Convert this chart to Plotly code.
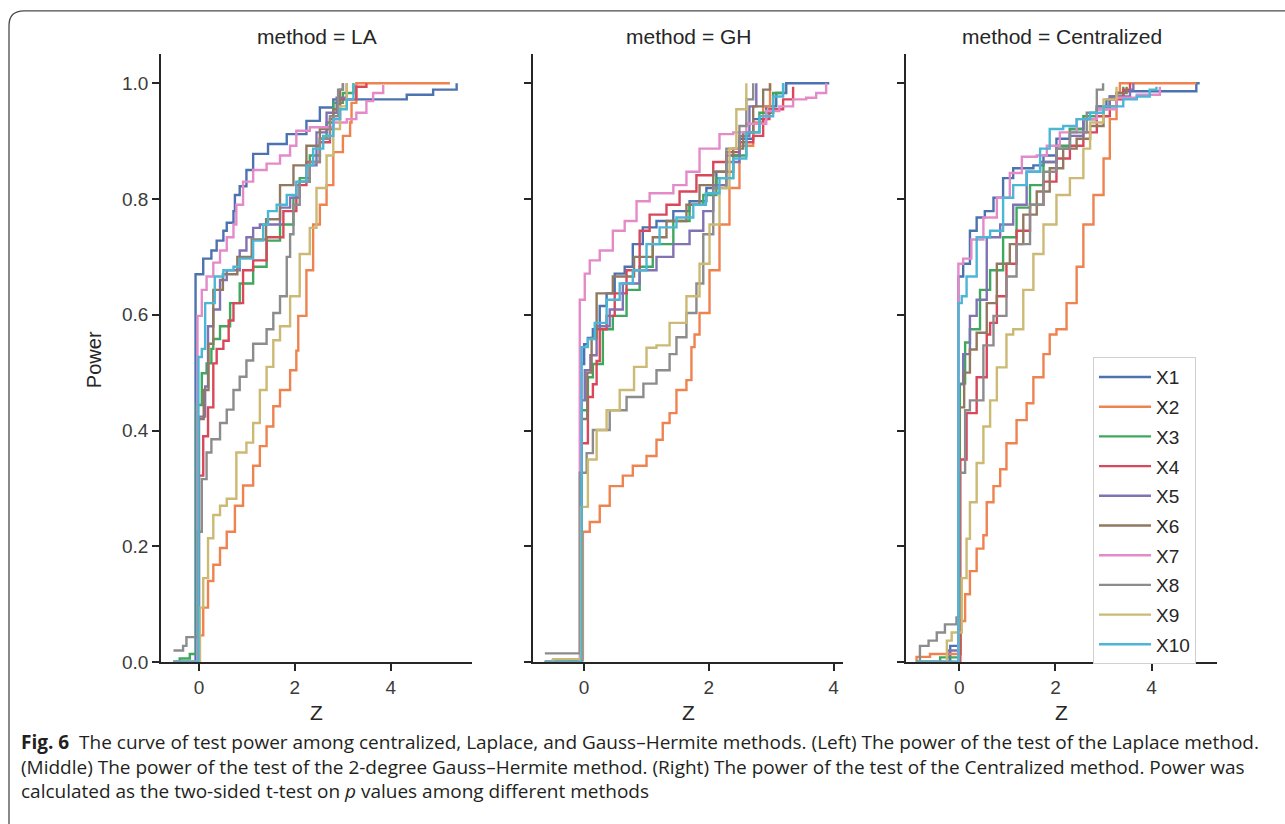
import plotly.graph_objects as go

# ---------------- data ----------------
SERIES = ["X1", "X2", "X3", "X4", "X5", "X6", "X7", "X8", "X9", "X10"]
COLORS = ["#4C72B0", "#EE8350", "#3FA85E", "#D9475A", "#8172B3",
          "#937860", "#E58AC8", "#8C8C8C", "#CCB974", "#4BB6D6"]
METHODS = ["LA", "GH", "Centralized"]
Y_TICKS = [0.0, 0.2, 0.4, 0.6, 0.8, 1.0]
Y_TICK_TEXT = ["0.0", "0.2", "0.4", "0.6", "0.8", "1.0"]
X_TICKS = [0, 2, 4]

# ---- method = LA ----
LA_X1_Z = [-0.53, -0.07, 0.09, 0.26, 0.37, 0.51, 0.58, 0.72, 0.75, 0.85, 0.99, 1.13, 1.44, 1.83, 2.24, 2.52, 2.80, 4.33, 4.88, 5.37]
LA_X1_P = [0.0, 0.670, 0.697, 0.711, 0.728, 0.745, 0.759, 0.779, 0.807, 0.822, 0.850, 0.878, 0.895, 0.912, 0.935, 0.958, 0.972, 0.980, 0.989, 1.0]
LA_X2_Z = [-0.53, 0.02, 0.09, 0.19, 0.30, 0.44, 0.58, 0.75, 0.92, 1.13, 1.27, 1.41, 1.55, 1.69, 1.90, 2.03, 2.07, 2.24, 2.38, 2.52, 2.66, 2.80, 3.00, 3.15, 3.18, 3.28, 5.23]
LA_X2_P = [0.0, 0.046, 0.094, 0.140, 0.168, 0.197, 0.225, 0.270, 0.305, 0.339, 0.373, 0.407, 0.442, 0.470, 0.504, 0.538, 0.598, 0.677, 0.756, 0.790, 0.824, 0.881, 0.909, 0.932, 0.966, 1.0, 1.0]
LA_X3_Z = [-0.53, -0.40, -0.19, -0.05, 0.06, 0.16, 0.26, 0.30, 0.44, 0.65, 0.85, 1.13, 1.41, 1.69, 1.97, 2.10, 2.31, 2.52, 2.66, 2.80, 3.00, 3.22]
LA_X3_P = [0.0, 0.006, 0.014, 0.444, 0.499, 0.516, 0.541, 0.558, 0.580, 0.620, 0.654, 0.683, 0.728, 0.756, 0.802, 0.836, 0.875, 0.904, 0.932, 0.966, 0.983, 1.0]
LA_X4_Z = [-0.53, 0.00, 0.09, 0.19, 0.30, 0.37, 0.51, 0.62, 0.72, 0.92, 1.13, 1.41, 1.76, 2.03, 2.24, 2.52, 2.73, 2.94, 3.28, 3.49]
LA_X4_P = [0.0, 0.322, 0.390, 0.440, 0.516, 0.541, 0.555, 0.590, 0.620, 0.677, 0.694, 0.734, 0.779, 0.824, 0.864, 0.898, 0.938, 0.972, 0.994, 1.0]
LA_X5_Z = [-0.53, 0.00, 0.13, 0.19, 0.30, 0.44, 0.58, 0.85, 0.99, 1.13, 1.27, 1.69, 1.90, 2.10, 2.31, 2.45, 2.66, 2.87, 3.08]
LA_X5_P = [0.0, 0.424, 0.476, 0.580, 0.609, 0.660, 0.677, 0.711, 0.734, 0.750, 0.756, 0.785, 0.802, 0.830, 0.858, 0.915, 0.949, 0.975, 1.0]
LA_X6_Z = [-0.53, 0.00, 0.10, 0.20, 0.30, 0.50, 0.80, 1.10, 1.40, 1.69, 1.97, 2.24, 2.52, 2.80, 2.94, 3.00]
LA_X6_P = [0.0, 0.420, 0.470, 0.550, 0.643, 0.670, 0.700, 0.730, 0.765, 0.824, 0.858, 0.892, 0.921, 0.955, 0.989, 1.0]
LA_X7_Z = [-0.53, -0.03, 0.06, 0.16, 0.30, 0.44, 0.58, 0.72, 0.78, 0.92, 1.13, 1.41, 1.69, 1.90, 2.03, 2.31, 2.80, 3.08, 3.28, 3.49, 3.63, 3.84]
LA_X7_P = [0.0, 0.598, 0.643, 0.666, 0.690, 0.711, 0.734, 0.756, 0.790, 0.830, 0.850, 0.861, 0.875, 0.892, 0.918, 0.924, 0.932, 0.938, 0.949, 0.969, 0.983, 0.997]
LA_X8_Z = [-0.53, -0.33, -0.26, -0.02, 0.06, 0.16, 0.26, 0.44, 0.58, 0.72, 0.85, 0.99, 1.13, 1.41, 1.55, 1.69, 1.83, 1.90, 1.97, 2.10, 2.31, 2.52, 2.73, 2.90, 3.00]
LA_X8_P = [0.020, 0.028, 0.043, 0.225, 0.316, 0.362, 0.385, 0.413, 0.436, 0.470, 0.493, 0.521, 0.550, 0.575, 0.603, 0.632, 0.700, 0.739, 0.790, 0.830, 0.864, 0.904, 0.943, 0.989, 1.0]
LA_X9_Z = [-0.53, 0.02, 0.09, 0.19, 0.30, 0.44, 0.58, 0.78, 0.99, 1.13, 1.27, 1.41, 1.55, 1.69, 1.90, 2.10, 2.31, 2.45, 2.66, 2.80, 2.94, 3.08]
LA_X9_P = [0.0, 0.094, 0.145, 0.214, 0.254, 0.270, 0.282, 0.362, 0.379, 0.413, 0.470, 0.510, 0.556, 0.580, 0.632, 0.705, 0.750, 0.819, 0.875, 0.921, 0.960, 1.0]
LA_X10_Z = [-0.53, -0.01, 0.06, 0.13, 0.33, 0.51, 0.72, 0.85, 1.13, 1.34, 1.44, 1.62, 1.83, 2.03, 2.24, 2.38, 2.59, 2.80, 2.94, 3.08, 3.22]
LA_X10_P = [0.0, 0.527, 0.541, 0.620, 0.666, 0.677, 0.683, 0.697, 0.728, 0.756, 0.779, 0.790, 0.807, 0.830, 0.858, 0.887, 0.909, 0.938, 0.955, 0.972, 1.0]

# ---- method = GH ----
GH_X1_Z = [-0.63, -0.05, 0.00, 0.06, 0.14, 0.25, 0.36, 0.49, 0.65, 0.78, 0.94, 1.16, 1.43, 1.69, 1.96, 2.12, 2.28, 2.49, 2.71, 2.92, 3.08, 3.24, 3.93]
GH_X1_P = [0.0, 0.515, 0.549, 0.560, 0.575, 0.615, 0.637, 0.671, 0.683, 0.722, 0.751, 0.762, 0.779, 0.796, 0.819, 0.847, 0.875, 0.904, 0.938, 0.960, 0.983, 1.0, 1.0]
GH_X2_Z = [-0.63, -0.50, -0.02, 0.09, 0.25, 0.41, 0.62, 0.78, 1.00, 1.16, 1.26, 1.37, 1.48, 1.64, 1.72, 1.77, 1.85, 2.01, 2.17, 2.33, 2.49, 2.71, 2.87, 2.98]
GH_X2_P = [0.0, 0.003, 0.225, 0.242, 0.270, 0.304, 0.322, 0.339, 0.356, 0.384, 0.413, 0.430, 0.470, 0.487, 0.544, 0.566, 0.603, 0.677, 0.756, 0.819, 0.892, 0.932, 0.960, 1.0]
GH_X3_Z = [-0.63, -0.30, -0.04, 0.06, 0.14, 0.30, 0.46, 0.68, 0.89, 1.10, 1.43, 1.69, 1.91, 2.12, 2.39, 2.60, 2.81, 3.03, 3.19]
GH_X3_P = [0.0, 0.004, 0.435, 0.492, 0.515, 0.575, 0.598, 0.643, 0.683, 0.722, 0.762, 0.790, 0.807, 0.836, 0.875, 0.915, 0.949, 0.983, 1.0]
GH_X4_Z = [-0.63, -0.04, 0.06, 0.14, 0.20, 0.25, 0.36, 0.49, 0.68, 0.89, 1.05, 1.32, 1.53, 1.80, 2.07, 2.28, 2.49, 2.71, 2.87, 2.97, 3.19, 3.35]
GH_X4_P = [0.0, 0.378, 0.458, 0.480, 0.520, 0.575, 0.598, 0.637, 0.677, 0.745, 0.773, 0.790, 0.813, 0.841, 0.864, 0.881, 0.898, 0.909, 0.938, 0.955, 0.972, 0.994]
GH_X5_Z = [-0.63, -0.04, 0.01, 0.10, 0.20, 0.41, 0.62, 0.89, 1.16, 1.43, 1.69, 1.91, 2.07, 2.28, 2.49, 2.65, 2.76]
GH_X5_P = [0.0, 0.452, 0.504, 0.530, 0.580, 0.609, 0.654, 0.677, 0.700, 0.722, 0.745, 0.779, 0.824, 0.864, 0.909, 0.960, 1.0]
GH_X6_Z = [-0.63, -0.04, 0.05, 0.12, 0.20, 0.46, 0.80, 1.10, 1.32, 1.64, 1.85, 2.07, 2.39, 2.55, 2.71, 2.87, 2.98]
GH_X6_P = [0.0, 0.420, 0.500, 0.560, 0.637, 0.666, 0.700, 0.734, 0.762, 0.790, 0.824, 0.847, 0.887, 0.915, 0.960, 0.989, 1.0]
GH_X7_Z = [-0.63, -0.07, 0.01, 0.09, 0.25, 0.46, 0.65, 0.84, 1.05, 1.43, 1.64, 1.85, 2.17, 2.39, 2.60, 2.92, 3.13, 3.35, 3.56, 3.72, 3.88]
GH_X7_P = [0.0, 0.626, 0.671, 0.694, 0.711, 0.745, 0.762, 0.796, 0.810, 0.824, 0.847, 0.887, 0.912, 0.915, 0.930, 0.952, 0.960, 0.972, 0.975, 0.983, 1.0]
GH_X8_Z = [-0.63, -0.07, 0.04, 0.14, 0.41, 0.68, 0.95, 1.16, 1.37, 1.48, 1.64, 1.80, 1.91, 2.07, 2.28, 2.49, 2.60, 2.71]
GH_X8_P = [0.015, 0.327, 0.361, 0.401, 0.435, 0.458, 0.481, 0.504, 0.532, 0.561, 0.603, 0.654, 0.739, 0.819, 0.887, 0.926, 0.972, 1.0]
GH_X9_Z = [-0.63, -0.50, -0.05, 0.06, 0.20, 0.36, 0.57, 0.80, 1.00, 1.16, 1.37, 1.64, 1.85, 2.01, 2.17, 2.33, 2.44, 2.60]
GH_X9_P = [0.0, 0.005, 0.268, 0.350, 0.401, 0.435, 0.470, 0.510, 0.543, 0.547, 0.586, 0.632, 0.688, 0.756, 0.819, 0.887, 0.955, 1.0]
GH_X10_Z = [-0.63, -0.04, 0.06, 0.17, 0.36, 0.57, 0.78, 1.00, 1.21, 1.48, 1.75, 1.95, 2.17, 2.39, 2.60, 2.81, 3.03, 3.19]
GH_X10_P = [0.0, 0.544, 0.558, 0.586, 0.626, 0.654, 0.677, 0.722, 0.751, 0.768, 0.790, 0.810, 0.836, 0.870, 0.915, 0.943, 0.977, 1.0]

# ---- method = Centralized ----
C_X1_Z = [-0.90, -0.19, -0.02, 0.08, 0.22, 0.36, 0.53, 0.71, 0.91, 1.12, 1.54, 1.75, 2.02, 2.30, 2.58, 2.86, 3.06, 3.27, 3.41, 4.93, 5.00]
C_X1_P = [0.0, 0.028, 0.666, 0.688, 0.745, 0.768, 0.779, 0.802, 0.836, 0.853, 0.858, 0.875, 0.904, 0.921, 0.938, 0.955, 0.972, 0.983, 0.986, 1.0, 1.0]
C_X2_Z = [-0.90, -0.89, -0.61, 0.03, 0.12, 0.22, 0.36, 0.50, 0.57, 0.71, 0.85, 0.98, 1.19, 1.40, 1.54, 1.75, 1.88, 2.02, 2.23, 2.44, 2.58, 2.79, 3.00, 3.13, 3.27, 3.34, 4.93]
C_X2_P = [0.0, 0.009, 0.014, 0.071, 0.117, 0.157, 0.196, 0.219, 0.276, 0.304, 0.333, 0.378, 0.418, 0.447, 0.492, 0.532, 0.566, 0.575, 0.620, 0.683, 0.756, 0.807, 0.870, 0.938, 0.983, 1.0, 1.0]
C_X3_Z = [-0.90, -0.40, 0.01, 0.12, 0.22, 0.43, 0.64, 0.91, 1.19, 1.47, 1.75, 2.02, 2.30, 2.58, 2.86, 3.13, 3.41]
C_X3_P = [0.0, 0.008, 0.481, 0.552, 0.575, 0.643, 0.677, 0.734, 0.785, 0.824, 0.864, 0.892, 0.921, 0.943, 0.960, 0.977, 0.994]
C_X4_Z = [-0.90, 0.02, 0.15, 0.36, 0.57, 0.64, 0.78, 0.98, 1.19, 1.47, 1.75, 2.02, 2.30, 2.58, 2.86, 3.13, 3.41, 3.55]
C_X4_P = [0.0, 0.350, 0.430, 0.492, 0.566, 0.586, 0.632, 0.688, 0.745, 0.790, 0.830, 0.870, 0.892, 0.915, 0.943, 0.972, 0.989, 1.0]
C_X5_Z = [-0.90, -0.25, -0.02, 0.08, 0.22, 0.36, 0.57, 0.85, 1.12, 1.40, 1.68, 2.02, 2.30, 2.58, 2.86, 3.13, 3.55, 3.62]
C_X5_P = [0.0, 0.020, 0.480, 0.532, 0.598, 0.626, 0.734, 0.756, 0.790, 0.847, 0.864, 0.887, 0.909, 0.938, 0.960, 0.977, 0.989, 1.0]
C_X6_Z = [-0.90, 0.00, 0.10, 0.22, 0.36, 0.57, 0.78, 1.05, 1.33, 1.61, 1.88, 2.16, 2.44, 2.72, 3.00, 3.27, 3.48]
C_X6_P = [0.0, 0.440, 0.500, 0.540, 0.569, 0.620, 0.688, 0.722, 0.773, 0.813, 0.853, 0.887, 0.904, 0.926, 0.960, 0.983, 0.994]
C_X7_Z = [-0.90, -0.02, 0.08, 0.25, 0.50, 0.78, 1.05, 1.30, 1.61, 1.82, 2.09, 2.44, 2.86, 3.27, 3.69, 4.17]
C_X7_P = [0.0, 0.688, 0.697, 0.730, 0.768, 0.802, 0.845, 0.873, 0.875, 0.892, 0.915, 0.938, 0.955, 0.975, 0.980, 0.994]
C_X8_Z = [-0.90, -0.82, -0.64, -0.47, -0.30, -0.06, 0.00, 0.12, 0.22, 0.50, 0.71, 0.98, 1.19, 1.47, 1.75, 2.02, 2.30, 2.65, 2.86, 2.99]
C_X8_P = [0.0, 0.028, 0.037, 0.051, 0.065, 0.077, 0.327, 0.435, 0.452, 0.547, 0.598, 0.666, 0.722, 0.790, 0.847, 0.887, 0.915, 0.949, 0.989, 1.0]
C_X9_Z = [-0.90, -0.26, -0.16, 0.05, 0.15, 0.22, 0.36, 0.50, 0.64, 0.78, 0.98, 1.12, 1.33, 1.54, 1.75, 2.02, 2.30, 2.58, 2.72, 3.00, 3.27]
C_X9_P = [0.0, 0.037, 0.051, 0.145, 0.213, 0.276, 0.344, 0.407, 0.452, 0.509, 0.566, 0.575, 0.643, 0.705, 0.756, 0.807, 0.836, 0.887, 0.932, 0.972, 0.994]
C_X10_Z = [-0.90, -0.02, 0.05, 0.15, 0.36, 0.64, 0.91, 1.12, 1.40, 1.68, 1.88, 2.16, 2.44, 2.72, 3.00, 3.41, 3.69, 3.96, 4.10]
C_X10_P = [0.0, 0.620, 0.632, 0.666, 0.734, 0.745, 0.802, 0.824, 0.847, 0.887, 0.921, 0.926, 0.938, 0.949, 0.960, 0.972, 0.977, 0.989, 0.994]

CAPTION_1 = ("<b>Fig. 6</b>  The curve of test power among centralized, Laplace, and Gauss\u2013Hermite "
             "methods. (Left) The power of the test of the Laplace method.")
CAPTION_2 = ("(Middle) The power of the test of the 2-degree Gauss\u2013Hermite method. (Right) The power "
             "of the test of the Centralized method. Power was")
CAPTION_3 = "calculated as the two-sided t-test on <i>p</i> values among different methods"

# ---------------- assemble ----------------
G = globals()
PREFIX = {"LA": "LA", "GH": "GH", "Centralized": "C"}

W, H = 1285, 824
def px_x(p):
    return p / W
def px_y(p):
    return 1 - p / H

PANELS = [
    dict(px=(161, 472), xr=[-0.79, 5.69]),
    dict(px=(533, 843), xr=[-0.82, 4.15]),
    dict(px=(906, 1217), xr=[-1.11, 5.36]),
]
Y_DOM = [px_y(671), px_y(55)]

FONT = "Liberation Sans, Arial, sans-serif"
AX_COLOR = "#262626"
TICK_FONT = dict(family=FONT, size=19, color="#3b3b3b")

fig = go.Figure()
for pi, m in enumerate(METHODS):
    xa = "x" if pi == 0 else f"x{pi+1}"
    ya = "y" if pi == 0 else f"y{pi+1}"
    for si, s in enumerate(SERIES):
        z = G[f"{PREFIX[m]}_{s}_Z"]
        p = G[f"{PREFIX[m]}_{s}_P"]
        fig.add_trace(go.Scatter(
            x=z, y=p, mode="lines", line=dict(color=COLORS[si], width=2.4, shape="hv"),
            name=s, legendgroup=s, showlegend=(pi == 0), xaxis=xa, yaxis=ya,
            hovertemplate=f"{s}<br>Z=%{{x}}<br>Power=%{{y}}<extra>method = {m}</extra>",
        ))

layout = dict(
    width=W, height=H, margin=dict(l=0, r=0, t=0, b=0),
    paper_bgcolor="white", plot_bgcolor="white",
    showlegend=True,
    legend=dict(x=px_x(1093), y=px_y(362), xanchor="left", yanchor="top",
                bgcolor="white", bordercolor="#d0d0d0", borderwidth=1,
                font=dict(family=FONT, size=19, color="#262626"),
                tracegroupgap=2, itemwidth=52),
    annotations=[],
    shapes=[],
)

for pi, (m, pan) in enumerate(zip(METHODS, PANELS)):
    key = "" if pi == 0 else str(pi + 1)
    layout["xaxis" + key] = dict(
        domain=[px_x(pan["px"][0]), px_x(pan["px"][1])], range=pan["xr"],
        anchor="y" + key, showline=True, linecolor=AX_COLOR, linewidth=1.6,
        ticks="outside", ticklen=7, tickwidth=1.5, tickcolor=AX_COLOR,
        tickvals=X_TICKS, tickfont=TICK_FONT, showgrid=False, zeroline=False,
    )
    layout["yaxis" + key] = dict(
        domain=Y_DOM, range=[0, 1.05], anchor="x" + key,
        showline=True, linecolor=AX_COLOR, linewidth=1.6,
        ticks="outside", ticklen=7, tickwidth=1.5, tickcolor=AX_COLOR,
        tickvals=Y_TICKS, ticktext=Y_TICK_TEXT, tickfont=TICK_FONT,
        showticklabels=(pi == 0), showgrid=False, zeroline=False,
    )
    cx = px_x((pan["px"][0] + pan["px"][1]) / 2)
    layout["annotations"].append(dict(
        text=f"method = {m}", x=cx, y=px_y(37), xref="paper", yref="paper",
        showarrow=False, xanchor="center", yanchor="middle",
        font=dict(family=FONT, size=21, color="#262626")))
    layout["annotations"].append(dict(
        text="Z", x=cx, y=px_y(722), xref="paper", yref="paper",
        showarrow=False, xanchor="center", yanchor="middle",
        font=dict(family=FONT, size=21, color="#262626")))

layout["annotations"].append(dict(
    text="Power", x=px_x(94), y=px_y(365), xref="paper", yref="paper",
    showarrow=False, textangle=-90, xanchor="center", yanchor="middle",
    font=dict(family=FONT, size=20, color="#262626")))

CAP_FONT = dict(family="Open Sans, Noto Sans, sans-serif", size=19, color="#231f20")
for i, line in enumerate([CAPTION_1, CAPTION_2, CAPTION_3]):
    layout["annotations"].append(dict(
        text=line, x=px_x(19), y=px_y(752 + 25 * i), xref="paper", yref="paper",
        showarrow=False, xanchor="left", yanchor="middle", align="left", font=CAP_FONT))

# figure frame (rounded top-left corner)
xl, yt = px_x(9), px_y(11)
rx, ry = 15 / W, 15 / H
layout["shapes"].append(dict(
    type="path", xref="paper", yref="paper",
    path=f"M {xl},-0.02 L {xl},{yt - ry} Q {xl},{yt} {xl + rx},{yt} L 1.02,{yt}",
    line=dict(color="#4a4a4a", width=1.3)))

fig.update_layout(**layout)
fig.write_html("out.html", config={"displayModeBar": False},
               post_script="document.body.style.margin='0';document.body.style.overflow='hidden';")
